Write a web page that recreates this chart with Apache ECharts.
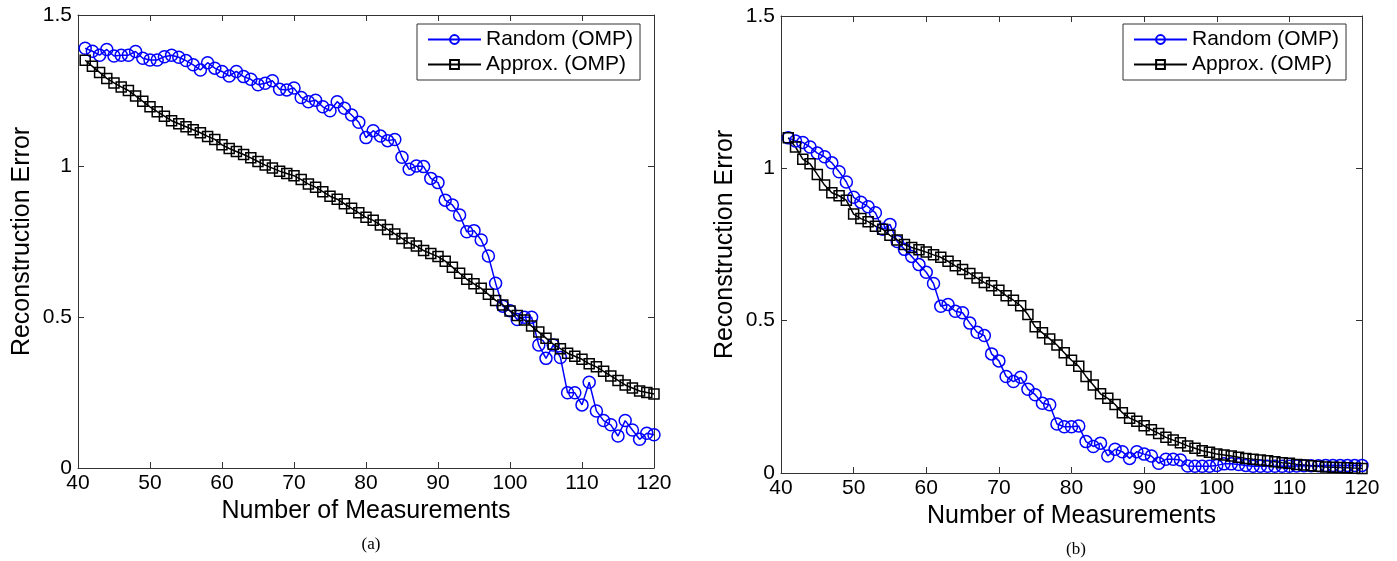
<!DOCTYPE html>
<html>
<head>
<meta charset="utf-8">
<title>Reconstruction Error vs Number of Measurements</title>
<script src="https://cdn.jsdelivr.net/npm/echarts@6/dist/echarts.min.js"></script>
<style>
  html, body { margin: 0; padding: 0; background: #fff; }
  #chart { width: 1397px; height: 561px; }
</style>
</head>
<body>
<div id="chart"></div>
<script>
// number of measurements (x values, shared by both panels)
const measurements = [
  41, 42, 43, 44, 45, 46, 47, 48, 49, 50, 51, 52, 53, 54, 55, 56, 57, 58, 59, 60,
  61, 62, 63, 64, 65, 66, 67, 68, 69, 70, 71, 72, 73, 74, 75, 76, 77, 78, 79, 80,
  81, 82, 83, 84, 85, 86, 87, 88, 89, 90, 91, 92, 93, 94, 95, 96, 97, 98, 99, 100,
  101, 102, 103, 104, 105, 106, 107, 108, 109, 110, 111, 112, 113, 114, 115, 116, 117, 118, 119, 120
];

// panel (a)
const randomA = [
  1.390, 1.380, 1.367, 1.386, 1.364, 1.367, 1.367, 1.379, 1.357, 1.351,
  1.351, 1.362, 1.367, 1.360, 1.349, 1.335, 1.318, 1.342, 1.324, 1.313,
  1.298, 1.313, 1.296, 1.287, 1.269, 1.274, 1.282, 1.254, 1.252, 1.258,
  1.227, 1.213, 1.218, 1.196, 1.183, 1.213, 1.191, 1.169, 1.145, 1.094,
  1.117, 1.099, 1.084, 1.088, 1.029, 0.989, 1.000, 0.998, 0.959, 0.945,
  0.887, 0.871, 0.838, 0.782, 0.786, 0.755, 0.702, 0.612, 0.536, 0.521,
  0.492, 0.499, 0.499, 0.407, 0.363, 0.407, 0.366, 0.249, 0.249, 0.209,
  0.284, 0.189, 0.157, 0.143, 0.106, 0.157, 0.126, 0.095, 0.115, 0.110
];
const approxA = [
  1.350, 1.330, 1.310, 1.290, 1.275, 1.262, 1.250, 1.232, 1.214, 1.196,
  1.180, 1.165, 1.150, 1.140, 1.130, 1.120, 1.110, 1.098, 1.088, 1.070,
  1.058, 1.048, 1.038, 1.027, 1.015, 1.003, 0.993, 0.983, 0.975, 0.968,
  0.955, 0.940, 0.930, 0.915, 0.900, 0.890, 0.875, 0.860, 0.845, 0.830,
  0.820, 0.805, 0.790, 0.775, 0.760, 0.745, 0.735, 0.720, 0.710, 0.700,
  0.685, 0.665, 0.645, 0.625, 0.610, 0.595, 0.575, 0.555, 0.540, 0.520,
  0.505, 0.490, 0.470, 0.450, 0.430, 0.410, 0.395, 0.380, 0.370, 0.360,
  0.345, 0.335, 0.320, 0.305, 0.290, 0.275, 0.265, 0.255, 0.250, 0.245
];

// panel (b)
const randomB = [
  1.100, 1.090, 1.085, 1.070, 1.050, 1.038, 1.018, 0.989, 0.955, 0.905,
  0.889, 0.874, 0.854, 0.800, 0.816, 0.760, 0.734, 0.711, 0.684, 0.659,
  0.622, 0.547, 0.553, 0.531, 0.526, 0.492, 0.462, 0.451, 0.391, 0.368,
  0.317, 0.300, 0.314, 0.275, 0.257, 0.229, 0.224, 0.161, 0.152, 0.152,
  0.154, 0.103, 0.087, 0.098, 0.056, 0.078, 0.070, 0.048, 0.070, 0.062,
  0.056, 0.032, 0.045, 0.045, 0.043, 0.023, 0.022, 0.022, 0.022, 0.025,
  0.030, 0.030, 0.028, 0.025, 0.022, 0.022, 0.022, 0.022, 0.022, 0.022,
  0.023, 0.024, 0.024, 0.024, 0.025, 0.025, 0.025, 0.025, 0.025, 0.025
];
const approxB = [
  1.100, 1.070, 1.030, 1.015, 0.980, 0.945, 0.920, 0.910, 0.895, 0.850,
  0.835, 0.825, 0.810, 0.800, 0.780, 0.765, 0.750, 0.740, 0.733, 0.725,
  0.716, 0.708, 0.695, 0.680, 0.668, 0.655, 0.640, 0.625, 0.615, 0.600,
  0.582, 0.567, 0.549, 0.520, 0.480, 0.460, 0.440, 0.420, 0.395, 0.370,
  0.350, 0.317, 0.289, 0.260, 0.245, 0.225, 0.198, 0.180, 0.170, 0.155,
  0.142, 0.130, 0.117, 0.108, 0.099, 0.089, 0.081, 0.073, 0.068, 0.062,
  0.059, 0.056, 0.052, 0.048, 0.045, 0.043, 0.040, 0.037, 0.034, 0.032,
  0.028, 0.026, 0.024, 0.022, 0.020, 0.019, 0.018, 0.017, 0.016, 0.015
];

const seriesNames = ['Random (OMP)', 'Approx. (OMP)'];
const panelCaptions = ['(a)', '(b)'];

const FONT = '"Liberation Sans", Arial, Helvetica, sans-serif';
const SERIF = '"Liberation Serif", "DejaVu Serif", serif';
const BLUE = '#0000ff';
const BLACK = '#000000';
const AXIS = '#333333';

const chart = echarts.init(document.getElementById('chart'));

// one grid per panel
const grids = [
  { left: 78, top: 15, width: 576, height: 453 },
  { left: 781, top: 16, width: 581, height: 457 },
];

function xAxisFor(gridIndex, position) {
  const main = position === 'bottom';
  return {
    type: 'value',
    gridIndex,
    position,
    min: 40,
    max: 120,
    interval: 10,
    name: main ? 'Number of Measurements' : '',
    nameLocation: 'middle',
    nameGap: 30,
    nameTextStyle: { fontFamily: FONT, fontSize: 25, color: '#000' },
    axisLine: { show: true, onZero: false, lineStyle: { color: AXIS, width: 1 } },
    axisTick: { show: true, inside: true, length: 6, lineStyle: { color: AXIS } },
    axisLabel: { show: main, fontFamily: FONT, fontSize: 21, color: '#000', margin: 5 },
    splitLine: { show: false },
  };
}

function yAxisFor(gridIndex, position) {
  const main = position === 'left';
  return {
    type: 'value',
    gridIndex,
    position,
    min: 0,
    max: 1.5,
    interval: 0.5,
    name: main ? 'Reconstruction Error' : '',
    nameLocation: 'middle',
    nameGap: 43,
    nameTextStyle: { fontFamily: FONT, fontSize: 25, color: '#000' },
    axisLine: { show: true, onZero: false, lineStyle: { color: AXIS, width: 1 } },
    axisTick: { show: true, inside: true, length: 6, lineStyle: { color: AXIS } },
    axisLabel: { show: main, fontFamily: FONT, fontSize: 21, color: '#000', margin: 6 },
    splitLine: { show: false },
  };
}

function lineSeries(name, values, axisIndex, color, symbol, size) {
  return {
    name,
    type: 'line',
    xAxisIndex: axisIndex,
    yAxisIndex: axisIndex,
    data: measurements.map((m, i) => [m, values[i]]),
    symbol,
    symbolSize: size,
    showAllSymbol: true,
    lineStyle: { color, width: 1.5 },
    itemStyle: { color: 'rgba(255,255,255,0)', borderColor: color, borderWidth: 1.5 },
    emphasis: { disabled: true },
    animation: false,
  };
}

function legendAt(left) {
  return {
    left,
    top: 24,
    orient: 'vertical',
    data: seriesNames,
    padding: [5, 7, 5, 10],
    itemGap: 4,
    itemWidth: 53,
    itemHeight: 11,
    borderColor: AXIS,
    borderWidth: 1,
    borderRadius: 0,
    backgroundColor: '#fff',
    selectedMode: false,
    textStyle: { fontFamily: FONT, fontSize: 21, color: '#000' },
  };
}

const options = {
  backgroundColor: '#fff',
  animation: false,
  grid: grids,
  title: [
    {
      text: panelCaptions[0], left: 366, top: 531, textAlign: 'center',
      textStyle: { fontFamily: SERIF, fontSize: 17, fontWeight: 'normal', color: '#000' },
    },
    {
      text: panelCaptions[1], left: 1071, top: 536, textAlign: 'center',
      textStyle: { fontFamily: SERIF, fontSize: 17, fontWeight: 'normal', color: '#000' },
    },
  ],
  legend: [legendAt(417), legendAt(1123)],
  // axes 0/2 carry the data, 1/3 only close the box with inward ticks
  xAxis: [xAxisFor(0, 'bottom'), xAxisFor(0, 'top'), xAxisFor(1, 'bottom'), xAxisFor(1, 'top')],
  yAxis: [yAxisFor(0, 'left'), yAxisFor(0, 'right'), yAxisFor(1, 'left'), yAxisFor(1, 'right')],
  series: [
    lineSeries(seriesNames[0], randomA, 0, BLUE, 'circle', 12),
    lineSeries(seriesNames[1], approxA, 0, BLACK, 'rect', 10),
    lineSeries(seriesNames[0], randomB, 2, BLUE, 'circle', 12),
    lineSeries(seriesNames[1], approxB, 2, BLACK, 'rect', 10),
  ],
};

chart.setOption(options);
</script>
</body>
</html>
